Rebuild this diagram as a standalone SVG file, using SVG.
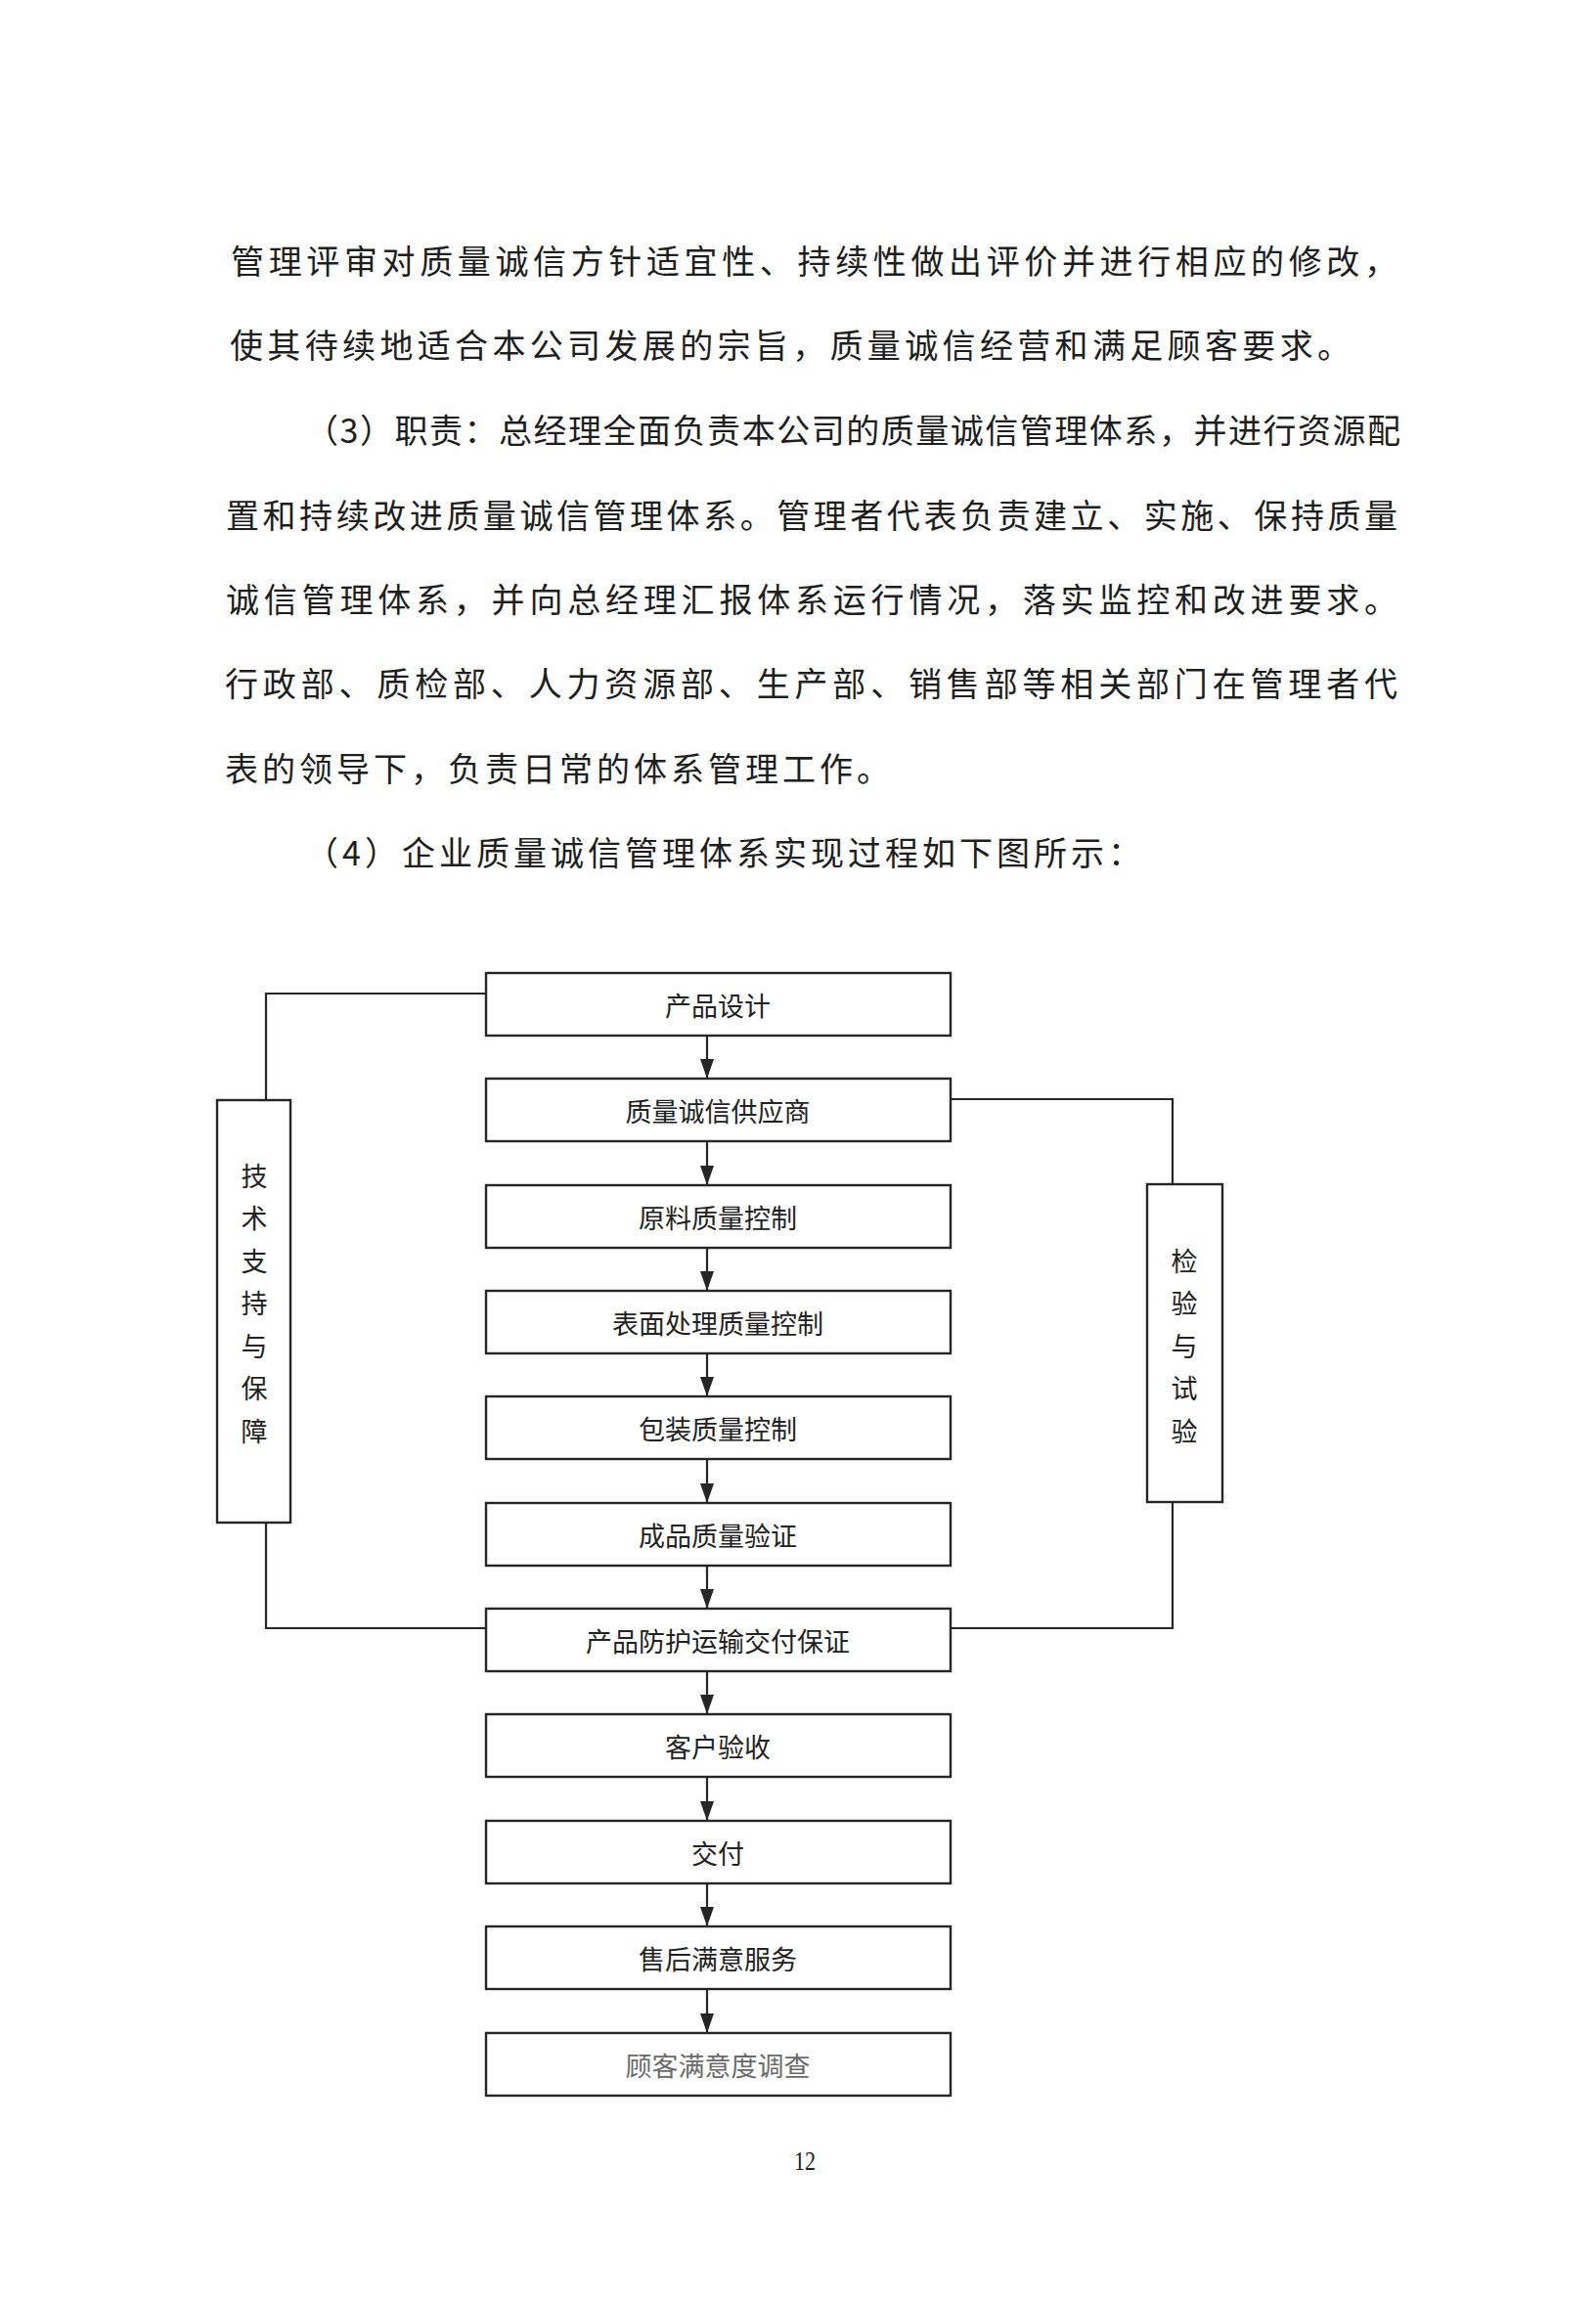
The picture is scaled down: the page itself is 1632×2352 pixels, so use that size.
<svg xmlns="http://www.w3.org/2000/svg" width="1632" height="2352" viewBox="0 0 1632 2352">
<defs>
<style>
.p{font-family:"Noto Sans CJK SC","Noto Sans",sans-serif;font-size:34px;fill:#1e1e1e;dominant-baseline:central;}
.box{fill:#ffffff;stroke:#262626;stroke-width:2.4;}
.lbl{font-family:"Noto Sans CJK SC","Noto Sans",sans-serif;font-size:27px;fill:#222;text-anchor:middle;dominant-baseline:central;}
.vl{font-family:"Noto Sans CJK SC","Noto Sans",sans-serif;font-size:27px;fill:#222;text-anchor:middle;dominant-baseline:central;}
.ln{fill:none;stroke:#262626;stroke-width:2.2;}
.arr{fill:none;stroke:#262626;stroke-width:2.2;marker-end:url(#ah);}
</style>
<marker id="ah" markerUnits="userSpaceOnUse" markerWidth="20" markerHeight="14" refX="20" refY="7" orient="auto" viewBox="0 0 20 14">
<path d="M0,0 L20,7 L0,14 z" fill="#262626"/>
</marker>
</defs>
<rect x="0" y="0" width="1632" height="2352" fill="#fefefe"/>

<g id="paragraph">
<text class="p" x="236" y="265" textLength="1193" lengthAdjust="spacing">管理评审对质量诚信方针适宜性、持续性做出评价并进行相应的修改，</text>
<text class="p" x="235" y="351" textLength="1146" lengthAdjust="spacing">使其待续地适合本公司发展的宗旨，质量诚信经营和满足顾客要求。</text>
<text class="p" x="312" y="438" textLength="1120" lengthAdjust="spacing">（3）职责：总经理全面负责本公司的质量诚信管理体系，并进行资源配</text>
<text class="p" x="231" y="525" textLength="1198" lengthAdjust="spacing">置和持续改进质量诚信管理体系。管理者代表负责建立、实施、保持质量</text>
<text class="p" x="231" y="611" textLength="1198" lengthAdjust="spacing">诚信管理体系，并向总经理汇报体系运行情况，落实监控和改进要求。</text>
<text class="p" x="230" y="697" textLength="1199" lengthAdjust="spacing">行政部、质检部、人力资源部、生产部、销售部等相关部门在管理者代</text>
<text class="p" x="230" y="784" textLength="680" lengthAdjust="spacing">表的领导下，负责日常的体系管理工作。</text>
<text class="p" x="312" y="870" textLength="855" lengthAdjust="spacing">（4）企业质量诚信管理体系实现过程如下图所示：</text>
</g>

<g id="connectors">
<path class="ln" d="M497,1016 H272 V1125"/>
<path class="ln" d="M272,1557 V1665 H497"/>
<path class="ln" d="M972,1124 H1199 V1211"/>
<path class="ln" d="M1199,1536 V1665 H972"/>
<line class="arr" x1="723" y1="1059" x2="723" y2="1103"/>
<line class="arr" x1="723" y1="1167" x2="723" y2="1212"/>
<line class="arr" x1="723" y1="1276" x2="723" y2="1320"/>
<line class="arr" x1="723" y1="1384" x2="723" y2="1428"/>
<line class="arr" x1="723" y1="1492" x2="723" y2="1537"/>
<line class="arr" x1="723" y1="1601" x2="723" y2="1645"/>
<line class="arr" x1="723" y1="1709" x2="723" y2="1753"/>
<line class="arr" x1="723" y1="1817" x2="723" y2="1862"/>
<line class="arr" x1="723" y1="1926" x2="723" y2="1970"/>
<line class="arr" x1="723" y1="2034" x2="723" y2="2079"/>
</g>

<g id="n1"><rect class="box" x="497" y="995" width="475" height="64"/><text class="lbl" x="734" y="1027">产品设计</text></g>
<g id="n2"><rect class="box" x="497" y="1103" width="475" height="64"/><text class="lbl" x="734" y="1135">质量诚信供应商</text></g>
<g id="n3"><rect class="box" x="497" y="1212" width="475" height="64"/><text class="lbl" x="734" y="1244">原料质量控制</text></g>
<g id="n4"><rect class="box" x="497" y="1320" width="475" height="64"/><text class="lbl" x="734" y="1352">表面处理质量控制</text></g>
<g id="n5"><rect class="box" x="497" y="1428" width="475" height="64"/><text class="lbl" x="734" y="1460">包装质量控制</text></g>
<g id="n6"><rect class="box" x="497" y="1537" width="475" height="64"/><text class="lbl" x="734" y="1569">成品质量验证</text></g>
<g id="n7"><rect class="box" x="497" y="1645" width="475" height="64"/><text class="lbl" x="734" y="1677">产品防护运输交付保证</text></g>
<g id="n8"><rect class="box" x="497" y="1753" width="475" height="64"/><text class="lbl" x="734" y="1785">客户验收</text></g>
<g id="n9"><rect class="box" x="497" y="1862" width="475" height="64"/><text class="lbl" x="734" y="1894">交付</text></g>
<g id="n10"><rect class="box" x="497" y="1970" width="475" height="64"/><text class="lbl" x="734" y="2002">售后满意服务</text></g>
<g id="n11"><rect class="box" x="497" y="2079" width="475" height="64"/><text class="lbl" x="734" y="2111" style="fill:#6a6a6a">顾客满意度调查</text></g>

<g id="tech-support">
<rect class="box" x="222" y="1125" width="75" height="432"/>
<text class="vl" x="260" y="1201">技</text>
<text class="vl" x="260" y="1244">术</text>
<text class="vl" x="260" y="1288">支</text>
<text class="vl" x="260" y="1331">持</text>
<text class="vl" x="260" y="1375">与</text>
<text class="vl" x="260" y="1418">保</text>
<text class="vl" x="260" y="1462">障</text>
</g>

<g id="inspection">
<rect class="box" x="1173" y="1211" width="77" height="325"/>
<text class="vl" x="1211" y="1288">检</text>
<text class="vl" x="1211" y="1331">验</text>
<text class="vl" x="1211" y="1375">与</text>
<text class="vl" x="1211" y="1418">试</text>
<text class="vl" x="1211" y="1462">验</text>
</g>

<text x="823" y="2219" font-family="Liberation Serif, serif" font-size="28" fill="#222" text-anchor="middle" textLength="22" lengthAdjust="spacingAndGlyphs">12</text>
</svg>
